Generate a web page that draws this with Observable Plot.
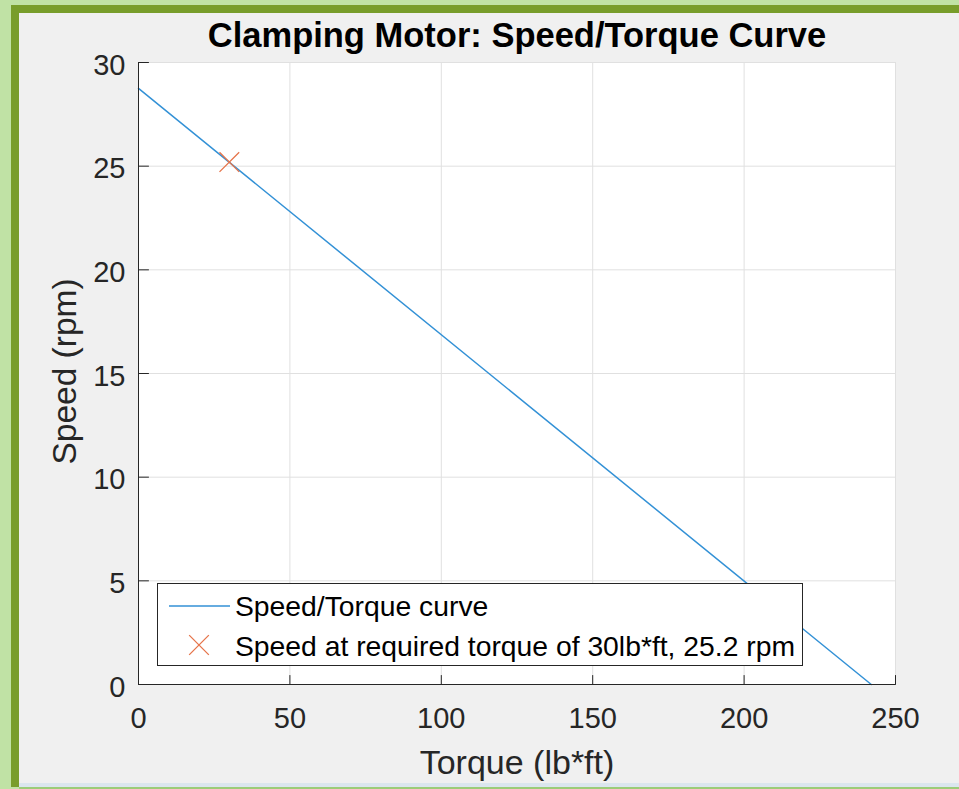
<!DOCTYPE html>
<html>
<head>
<meta charset="utf-8">
<script src="https://cdn.jsdelivr.net/npm/d3@7"></script>
<script src="https://cdn.jsdelivr.net/npm/@observablehq/plot@0.6"></script>
<style>
  html, body { margin: 0; padding: 0; }
  body { width: 959px; height: 789px; overflow: hidden; position: relative; background: #c0e2a5; font-family: "Liberation Sans", Arial, Helvetica, sans-serif; }
  #frame { position: absolute; left: 11px; top: 5px; width: 960px; height: 782px; background: #789d2b; }
  #panel { position: absolute; left: 19px; top: 13px; width: 950px; height: 770px; background: #f0f0f0; }
  #strip { position: absolute; left: 19px; top: 783px; width: 950px; height: 4px; background: #dbe6ee; }
  #bottomline { position: absolute; left: 19px; top: 787px; width: 950px; height: 2px; background: #9ccc78; }
  #chart { position: absolute; left: 0; top: 0; }
  #legend { position: absolute; left: 157px; top: 583px; }
</style>
</head>
<body>
<div id="frame"></div>
<div id="panel"></div>
<div id="strip"></div>
<div id="bottomline"></div>
<div id="chart"></div>
<div id="legend"></div>
<script>
// ---- data ----
const torque = [0, 242];          // lb*ft
const speed = [28.75, 0];         // rpm
const reqTorque = [30];
const reqSpeed = [25.2];
const xTicks = [0, 50, 100, 150, 200, 250];
const yTicks = [0, 5, 10, 15, 20, 25, 30];
const titleText = "Clamping Motor: Speed/Torque Curve";
const xLabel = "Torque (lb*ft)";
const yLabel = "Speed (rpm)";
const legendLabels = ["Speed/Torque curve", "Speed at required torque of 30lb*ft, 25.2 rpm"];

const curve = torque.map((t, i) => ({t, s: speed[i]}));
const req = reqTorque.map((t, i) => ({t, s: reqSpeed[i]}));

const lineColor = "#3391d6";
const markColor = "#e6744a";
const axisColor = "#262626";
const gridColor = "#e0e0e0";
const font = "'Liberation Sans', Arial, Helvetica, sans-serif";

// plain inward tick shape for vectors
const tickShape = {draw(context, l) { context.moveTo(0, 0); context.lineTo(0, -l); }};

const chart = Plot.plot({
  width: 959,
  height: 789,
  marginLeft: 138,
  marginRight: 64,
  marginTop: 62,
  marginBottom: 105,
  style: {background: "transparent", color: axisColor, fontFamily: font, overflow: "visible"},
  x: {domain: [0, 250]},
  y: {domain: [0, 30]},
  marks: [
    Plot.frame({fill: "white", stroke: null}),
    Plot.gridX(xTicks, {stroke: gridColor, strokeOpacity: 1}),
    Plot.gridY(yTicks, {stroke: gridColor, strokeOpacity: 1}),
    Plot.line(curve, {x: "t", y: "s", stroke: lineColor, strokeWidth: 1.5}),
    Plot.dot(req, {x: "t", y: "s", symbol: "times", r: 9, stroke: markColor, strokeWidth: 1.3}),
    Plot.ruleX([0], {stroke: axisColor, strokeWidth: 1}),
    Plot.ruleY([0], {stroke: axisColor, strokeWidth: 1}),
    Plot.vectorX(xTicks, {x: d => d, frameAnchor: "bottom", anchor: "start", length: 9, rotate: 0, shape: tickShape, stroke: axisColor, strokeWidth: 1}),
    Plot.vectorY(yTicks, {y: d => d, frameAnchor: "left", anchor: "start", length: 10, rotate: 90, shape: tickShape, stroke: axisColor, strokeWidth: 1}),
    Plot.axisX(xTicks, {tickSize: 0, tickPadding: 23, fontSize: 29, label: null, tickFormat: d => String(d)}),
    Plot.axisY(yTicks, {tickSize: 0, tickPadding: 13, fontSize: 29, dy: 3, label: null, tickFormat: d => String(d)}),
    Plot.text([titleText], {frameAnchor: "top", dy: -16, lineAnchor: "bottom", textAnchor: "middle", fontWeight: "bold", fontSize: 34.5, fill: "black", text: d => d}),
    Plot.text([xLabel], {frameAnchor: "bottom", dy: 89, lineAnchor: "bottom", textAnchor: "middle", fontSize: 34, fill: axisColor, text: d => d}),
    Plot.text([yLabel], {frameAnchor: "left", dx: -86, dy: -2, rotate: -90, lineAnchor: "top", textAnchor: "middle", fontSize: 33.5, fill: axisColor, text: d => d})
  ]
});
document.getElementById("chart").append(chart);

// ---- legend ----
const lw = 646, lh = 83;
const leg = d3.select("#legend").append("svg")
  .attr("width", lw).attr("height", lh)
  .style("font-family", font);
leg.append("rect").attr("x", 0.5).attr("y", 0.5).attr("width", lw - 1).attr("height", lh - 1)
  .attr("fill", "white").attr("stroke", axisColor).attr("stroke-width", 1);
leg.append("line").attr("x1", 12).attr("x2", 73).attr("y1", 23).attr("y2", 23)
  .attr("stroke", lineColor).attr("stroke-width", 1.5);
leg.append("path").attr("d", d3.symbol(d3.symbolTimes, Math.PI * 81)()).attr("transform", "translate(42,62)")
  .attr("fill", "none").attr("stroke", markColor).attr("stroke-width", 1.3);
leg.selectAll("text.l").data(legendLabels).join("text")
  .attr("x", 78).attr("y", (d, i) => 33 + i * 40)
  .attr("font-size", 28.3).attr("fill", "black").text(d => d);
</script>
</body>
</html>
